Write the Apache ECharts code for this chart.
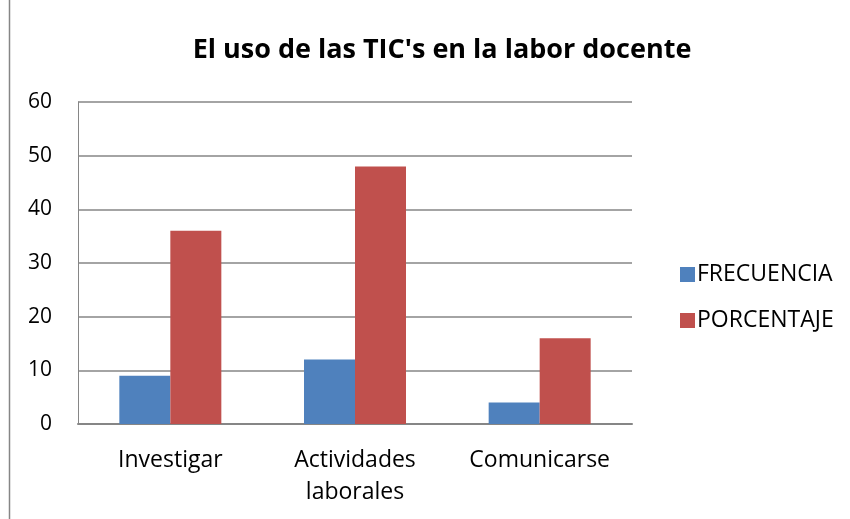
<!DOCTYPE html>
<html>
<head>
    <meta charset="utf-8">
    <title>El uso de las TIC's en la labor docente</title>
    <script src="https://cdn.jsdelivr.net/npm/echarts@6/dist/echarts.min.js"></script>
    <style>
        html, body { margin: 0; padding: 0; background: #fff; }
    </style>
</head>
<body>
    <div id="main" style="width: 850px;height:519px;"></div>
    <script type="text/javascript">
        // datos
        var categorias = ['Investigar', 'Actividades\nlaborales', 'Comunicarse'];
        var frecuencia = [9, 12, 4];
        var porcentaje = [36, 48, 16];
        var nombresSeries = ['FRECUENCIA', 'PORCENTAJE'];

        var fuente = 'Open Sans';
        var myChart = echarts.init(document.getElementById('main'));

        var option = {
            backgroundColor: '#fff',
            animation: false,
            title: {
                text: "El uso de las TIC's en la labor docente",
                left: 437,
                top: 32,
                textAlign: 'center',
                textStyle: { fontFamily: fuente, fontSize: 27, fontWeight: 'bold', color: '#000' }
            },
            legend: {
                orient: 'vertical',
                left: 675,
                top: 258,
                itemWidth: 15,
                itemHeight: 15,
                itemGap: 23,
                icon: 'rect',
                data: nombresSeries,
                textStyle: { fontFamily: fuente, fontSize: 23, color: '#000', padding: [0, 0, 0, -3] }
            },
            grid: { left: 78, right: 218, top: 102, bottom: 95 },
            xAxis: {
                type: 'category',
                data: categorias,
                axisLine: { lineStyle: { color: '#868686', width: 2 } },
                axisTick: { show: false },
                axisLabel: {
                    fontFamily: fuente, fontSize: 23, color: '#000',
                    margin: 20, lineHeight: 32
                }
            },
            yAxis: {
                type: 'value',
                min: 0,
                max: 60,
                interval: 10,
                axisLine: { show: true, lineStyle: { color: '#868686', width: 1 } },
                axisTick: { show: false },
                splitLine: { lineStyle: { color: '#868686', width: 1.5 } },
                axisLabel: { fontFamily: fuente, fontSize: 21, color: '#000', margin: 26 }
            },
            series: [
                {
                    name: nombresSeries[0],
                    type: 'bar',
                    data: frecuencia,
                    barWidth: 51,
                    barGap: '0%',
                    itemStyle: { color: '#4F81BD' }
                },
                {
                    name: nombresSeries[1],
                    type: 'bar',
                    data: porcentaje,
                    barWidth: 51,
                    barGap: '0%',
                    itemStyle: { color: '#C0504D' }
                }
            ],
            graphic: [
                {
                    type: 'line',
                    shape: { x1: 9.5, y1: 0, x2: 9.5, y2: 519 },
                    style: { stroke: '#868686', lineWidth: 1.5 }
                }
            ]
        };

        myChart.setOption(option);
    </script>
</body>
</html>
